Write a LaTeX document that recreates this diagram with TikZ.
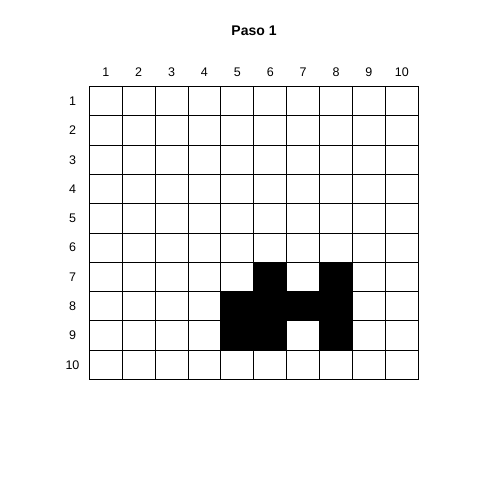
\documentclass[tikz,border=0pt]{standalone}
\usepackage{fontspec}
\setmainfont{Liberation Sans}
\begin{document}
\begin{tikzpicture}[x=1pt,y=-1pt,
  lbl/.style={font=\fontsize{12.5}{14}\selectfont, inner sep=0pt},
  ttl/.style={font=\fontsize{14}{16}\selectfont\bfseries, inner sep=0pt},
  cellbox/.style={draw=black, line width=1pt, minimum width=32.9pt, minimum height=29.3pt, inner sep=0pt, outer sep=0pt},
  on/.style={cellbox, fill=black}]
\useasboundingbox (0,0) rectangle (480,480);
\fill[white] (0,0) rectangle (480,480);
\node[ttl] (title) at (254,31) {Paso 1};
\foreach \c in {1,...,10} {
  \node[lbl] (col\c) at ({89.3+32.9*(\c-0.5)},72.5) {\c};
  \node[lbl] (row\c) at (72.5,{86.7+29.27*(\c-0.5)}) {\c};
}
\foreach \r in {1,...,10} {
  \foreach \c in {1,...,10} {
    \node[cellbox] (cell-\r-\c) at ({89.3+32.9*(\c-0.5)},{86.7+29.27*(\r-0.5)}) {};
  }
}
\foreach \r/\c in {7/6,7/8,8/5,8/6,8/7,8/8,9/5,9/6,9/8} {
  \node[on] (on-\r-\c) at ({89.3+32.9*(\c-0.5)},{86.7+29.27*(\r-0.5)}) {};
}
\end{tikzpicture}
\end{document}
